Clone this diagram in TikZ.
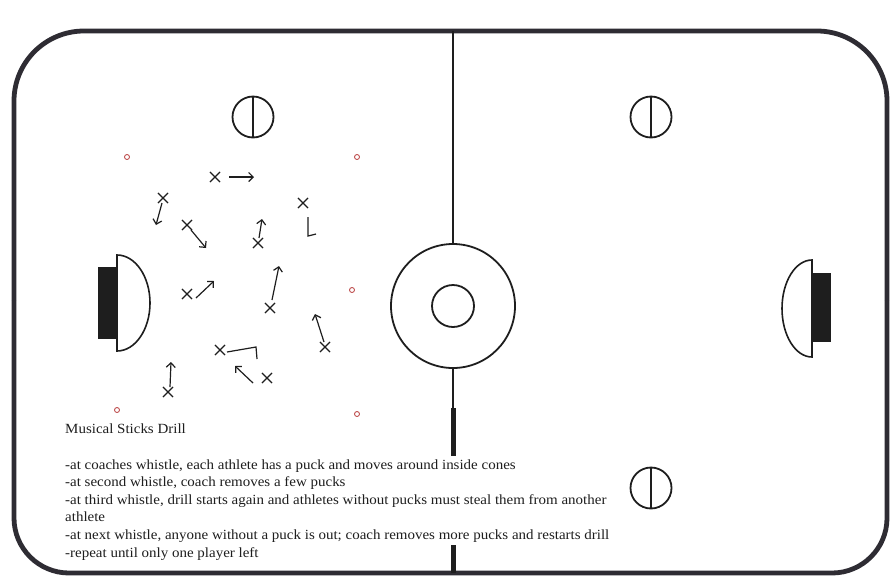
\documentclass[tikz,border=0pt]{standalone}
\usepackage{fontspec}
\setmainfont[FakeStretch=1.07]{Liberation Serif}
\usetikzlibrary{arrows.meta,shapes.misc}
\definecolor{ink}{HTML}{1E1E1E}
\definecolor{boardc}{HTML}{2E2C33}
\definecolor{conec}{HTML}{B83A3A}
\begin{document}
\begin{tikzpicture}[x=1pt,y=-1pt,
  board/.style={draw=boardc, line width=4.8pt},
  thinline/.style={draw=ink, line width=2.2pt},
  thickbar/.style={draw=ink, line width=5pt},
  fo/.style={circle, draw=ink, line width=1.8pt, minimum size=41pt, inner sep=0pt},
  cone/.style={circle, draw=conec, line width=0.8pt, minimum size=5pt, inner sep=0pt},
  player/.style={cross out, draw=ink, line width=1.1pt, minimum size=9pt, inner sep=0pt},
  arr/.style={draw=ink, line width=1.2pt, -{Straight Barb[length=4.5pt,width=9pt]}},
  plain/.style={draw=ink, line width=1.2pt},
  txt/.style={anchor=base west, inner sep=0pt, text=ink, font=\fontsize{14pt}{17pt}\selectfont}]
\fill[white] (0,0) rectangle (890,579);
\useasboundingbox (0,0) rectangle (890,579);
% rink boards
\draw[board, rounded corners=70pt] (14,300) |- (450,31) -| (887,300);
\draw[board, rounded corners=55pt] (887,300) |- (450,573) -| (14,300);
% centre circle and red line
\node[circle, draw=ink, line width=1.8pt, minimum size=124pt, inner sep=0pt] (cc) at (453,306) {};
\node[circle, draw=ink, line width=1.8pt, minimum size=42pt, inner sep=0pt] (ci) at (453,306) {};
\coordinate (ltop) at (453,31);
\coordinate (lb1) at (453,408);
\coordinate (lb2) at (453,456);
\coordinate (lb3) at (453,545);
\coordinate (lb4) at (453,573);
\draw[thinline] (ltop) -- (cc.north);
\draw[thinline] (cc.south) -- (lb1);
\draw[thickbar] (lb1) -- (lb2);
\draw[thickbar] (lb3) -- (lb4);
% faceoff circles
\node[fo] (f1) at (253,117) {};
\node[fo] (f2) at (651,117) {};
\node[fo] (f3) at (651,488) {};
\foreach \f in {f1,f2,f3} \draw[draw=ink, line width=1.4pt] (\f.north) -- (\f.south);
% goals
\fill[ink] (98,267) rectangle (117,339);
\draw[draw=ink, line width=1.6pt, fill=white] (117,255) arc[start angle=-90, end angle=90, x radius=33, y radius=48] -- cycle;
\fill[ink] (812,273) rectangle (831,342);
\draw[draw=ink, line width=1.6pt, fill=white] (812,260) arc[start angle=-90, end angle=-270, x radius=30, y radius=48.5] -- cycle;
% cones
\node[cone] (c1) at (127,157) {};
\node[cone] (c2) at (357,157) {};
\node[cone] (c3) at (352,290) {};
\node[cone] (c4) at (117,410) {};
\node[cone] (c5) at (357,414) {};
% players and their paths
\node[player] (p1) at (215,177) {};
\coordinate (a1s) at (229,177); \coordinate (a1e) at (254,177);
\draw[arr] (a1s) -- (a1e);
\node[player] (p2) at (163,198) {};
\coordinate (a2s) at (162,203); \coordinate (a2e) at (156,225);
\draw[arr] (a2s) -- (a2e);
\node[player] (p3) at (187,225) {};
\coordinate (a3s) at (191,230); \coordinate (a3e) at (206,248);
\draw[arr] (a3s) -- (a3e);
\node[player] (p4) at (258,243) {};
\coordinate (a4s) at (259,238); \coordinate (a4e) at (262,219);
\draw[arr] (a4s) -- (a4e);
\node[player] (p5) at (303,203) {};
\coordinate (a5s) at (308,217); \coordinate (a5m) at (308,236); \coordinate (a5e) at (316,234);
\draw[plain] (a5s) -- (a5m) -- (a5e);
\node[player] (p6) at (187,294) {};
\coordinate (a6s) at (196,298); \coordinate (a6e) at (214,281);
\draw[arr] (a6s) -- (a6e);
\node[player] (p7) at (270,308) {};
\coordinate (a7s) at (272,300); \coordinate (a7e) at (279,266);
\draw[arr] (a7s) -- (a7e);
\node[player] (p8) at (325,347) {};
\coordinate (a8s) at (324,342); \coordinate (a8e) at (315,314);
\draw[arr] (a8s) -- (a8e);
\node[player] (p9) at (220,350) {};
\coordinate (a9s) at (227,352); \coordinate (a9m) at (256,347); \coordinate (a9e) at (257,359);
\draw[plain] (a9s) -- (a9m) -- (a9e);
\node[player] (p10) at (267,378) {};
\coordinate (a10s) at (253,383); \coordinate (a10e) at (235,366);
\draw[arr] (a10s) -- (a10e);
\node[player] (p11) at (168,392) {};
\coordinate (a11s) at (170,387); \coordinate (a11e) at (171,362);
\draw[arr] (a11s) -- (a11e);
% text
\node[txt] (title) at (65,433) {Musical Sticks Drill};
\node[txt] (t1) at (65,469) {-at coaches whistle, each athlete has a puck and moves around inside cones};
\node[txt] (t2) at (65,486.6) {-at second whistle, coach removes a few pucks};
\node[txt] (t3) at (65,504.2) {-at third whistle, drill starts again and athletes without pucks must steal them from another};
\node[txt] (t4) at (65,521.8) {athlete};
\node[txt] (t5) at (65,539.4) {-at next whistle, anyone without a puck is out; coach removes more pucks and restarts drill};
\node[txt] (t6) at (65,557) {-repeat until only one player left};
\end{tikzpicture}
\end{document}
